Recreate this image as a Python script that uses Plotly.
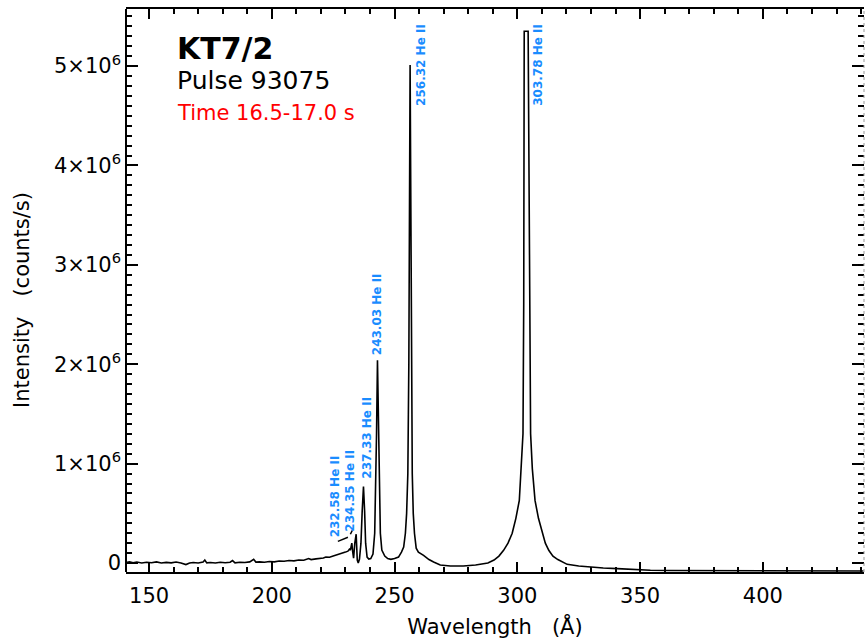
import plotly.graph_objects as go

# ---- data (wavelength in Angstrom, intensity in units of 1e6 counts/s) ----
wavelength = [140.5, 142, 143.5, 145, 147, 149, 151, 153, 155, 157, 159, 161, 163, 165, 166.5,
              168, 170, 172, 172.7, 173.5, 175, 177, 179, 181, 183, 184, 185, 187, 189, 191,
              192.6, 193.5, 195, 197, 199, 201, 203, 205, 207, 209, 211, 213, 215, 216, 218,
              219.7, 221, 222, 223.5, 225, 226.5, 228, 229, 230, 231, 231.6,
              232.0, 232.3, 232.58, 232.9, 233.3, 233.8, 234.35, 234.8, 235.2, 235.7,
              236.3, 236.8, 237.33, 237.8, 238.2, 238.8, 239.5, 240.3, 241.2, 241.9, 242.3,
              242.65, 243.03, 243.45, 243.8, 244.2, 244.8, 246, 247.2, 248.5, 250, 251.6,
              252.8, 253.7, 254.4, 254.9, 255.4, 255.8, 256.32, 256.8, 257.2, 257.6, 258.1,
              258.8, 259.7, 261.8, 264, 265.9, 268.6, 272.7, 278, 283, 286, 288, 290.5,
              292.5, 294.4, 296.2, 297.9, 299.4, 300.8, 301.6, 302.3, 302.6, 302.8, 304.4,
              304.9, 305.4, 306.1, 307.2, 308.6, 310.1, 311.4, 312.8, 314.5, 316.5, 318.5,
              320.3, 325, 330, 335, 340.7, 347, 354.2, 362, 370, 380, 395, 410, 425, 441]
intensity_e6 = [0.005, 0.012, 0.002, 0.01, 0.0, 0.008, 0.003, 0.012, 0.0, 0.007, 0.002, 0.01, 0.0, -0.015, 0.0,
                0.005, 0.0, 0.01, 0.03, 0.002, 0.005, 0.0, 0.008, 0.003, 0.008, 0.025, 0.002, 0.008, 0.005, 0.012,
                0.038, 0.01, 0.012, 0.008, 0.015, 0.012, 0.02, 0.018, 0.025, 0.022, 0.03, 0.028, 0.045, 0.035, 0.042,
                0.045, 0.05, 0.06, 0.058, 0.07, 0.08, 0.09, 0.1, 0.11, 0.12, 0.14,
                0.13, 0.17, 0.2, 0.12, 0.05, 0.2, 0.29, 0.03, 0.0, 0.04,
                0.2, 0.52, 0.77, 0.52, 0.2, 0.06, 0.04, 0.045, 0.09, 0.3, 0.7,
                1.3, 2.04, 1.3, 0.7, 0.3, 0.13, 0.07, 0.045, 0.037, 0.045, 0.06,
                0.11, 0.16, 0.3, 0.5, 0.9, 2.0, 5.01, 2.0, 0.9, 0.5, 0.3,
                0.15, 0.11, 0.077, 0.035, 0.01, -0.02, -0.03, -0.03, -0.02, -0.01, 0.0, 0.03,
                0.07, 0.128, 0.2, 0.30, 0.45, 0.63, 0.95, 1.3, 2.6, 5.35, 5.35,
                2.6, 1.3, 0.95, 0.63, 0.45, 0.30, 0.2, 0.128, 0.07, 0.035, 0.01,
                -0.013, -0.03, -0.042, -0.05, -0.056, -0.065, -0.072, -0.075, -0.076, -0.078, -0.08, -0.08, -0.08, -0.08]

line_labels = ["232.58 He II", "234.35 He II", "237.33 He II", "243.03 He II", "256.32 He II", "303.78 He II"]
label_x = [225.8, 232.0, 238.4, 242.8, 260.8, 308.4]
label_y_e6 = [0.24, 0.30, 0.83, 2.07, 4.58, 4.58]

ytick_vals_e6 = [0, 1, 2, 3, 4, 5]
ytick_text = ["0", "1×10<sup>6</sup>", "2×10<sup>6</sup>", "3×10<sup>6</sup>", "4×10<sup>6</sup>", "5×10<sup>6</sup>"]
xtick_vals = [150, 200, 250, 300, 350, 400]

E6 = 1e6
FONT = "DejaVu Sans"
BLUE = "#1a8cff"

fig = go.Figure()
fig.add_trace(go.Scatter(x=wavelength, y=[v * E6 for v in intensity_e6], mode="lines",
                         line=dict(color="black", width=1.6), showlegend=False,
                         hoverinfo="skip"))

annotations = []
for t, lx, ly in zip(line_labels, label_x, label_y_e6):
    annotations.append(dict(x=lx, y=ly * E6, xref="x", yref="y", text=t, textangle=-90,
                            showarrow=False, xanchor="center", yanchor="bottom",
                            font=dict(family=FONT, size=12, color=BLUE, weight="bold")))

annotations += [
    dict(x=0.067, y=0.93, xref="paper", yref="paper", text="<b>KT7/2</b>", showarrow=False,
         xanchor="left", yanchor="middle", font=dict(family=FONT, size=30, color="black")),
    dict(x=0.067, y=0.873, xref="paper", yref="paper", text="Pulse 93075", showarrow=False,
         xanchor="left", yanchor="middle", font=dict(family=FONT, size=25, color="black")),
    dict(x=0.067, y=0.816, xref="paper", yref="paper", text="Time 16.5-17.0 s", showarrow=False,
         xanchor="left", yanchor="middle", font=dict(family=FONT, size=21, color="red")),
    # y-axis title
    dict(x=-0.141, y=0.483, xref="paper", yref="paper", text="Intensity\u00a0\u00a0\u00a0(counts/s)",
         textangle=-90, showarrow=False, xanchor="center", yanchor="middle",
         font=dict(family=FONT, size=21, color="black")),
]

# leader ticks from the two small labels towards their lines
shapes = [
    dict(type="line", xref="x", yref="y", x0=226.9, y0=0.218 * E6, x1=231.0, y1=0.259 * E6,
         line=dict(color="black", width=1.5)),
    dict(type="line", xref="x", yref="y", x0=232.0, y0=0.29 * E6, x1=232.8, y1=0.33 * E6,
         line=dict(color="black", width=1.5)),
    # left axis line
    dict(type="line", xref="paper", yref="paper", x0=0, y0=0, x1=0, y1=1,
         line=dict(color="black", width=2)),
    # dotted right border
    dict(type="line", xref="paper", yref="paper", x0=1, y0=0, x1=1, y1=1,
         line=dict(color="#999999", width=1, dash="dot")),
]

fig.update_layout(
    width=865, height=643,
    margin=dict(l=126, r=1, t=9, b=71),
    paper_bgcolor="white", plot_bgcolor="white",
    font=dict(family=FONT, size=21, color="black"),
    annotations=annotations, shapes=shapes,
    xaxis=dict(range=[140.6, 441.2], tickvals=xtick_vals, ticks="inside", ticklen=10, tickwidth=2,
               tickcolor="black", showline=True, linecolor="black", linewidth=2, mirror="ticks",
               showgrid=False, zeroline=False, ticklabelstandoff=4,
               tickfont=dict(family=FONT, size=21),
               minor=dict(dtick=10, ticks="inside", ticklen=5, tickwidth=2, tickcolor="black", showgrid=False),
               title=dict(text="Wavelength\u00a0\u00a0\u00a0(Å)", font=dict(family=FONT, size=21), standoff=12)),
    yaxis=dict(range=[-0.09 * E6, 5.574 * E6], tickvals=[v * E6 for v in ytick_vals_e6], ticktext=ytick_text,
               ticks="inside", ticklen=12, tickwidth=2, tickcolor="black", showline=False,
               mirror="ticks", showgrid=False, zeroline=False, ticklabelstandoff=4,
               tickfont=dict(family=FONT, size=21),
               minor=dict(dtick=0.1 * E6, tick0=0, ticks="inside", ticklen=6, tickwidth=2, tickcolor="black", showgrid=False)),
)

fig.write_html("out.html")
